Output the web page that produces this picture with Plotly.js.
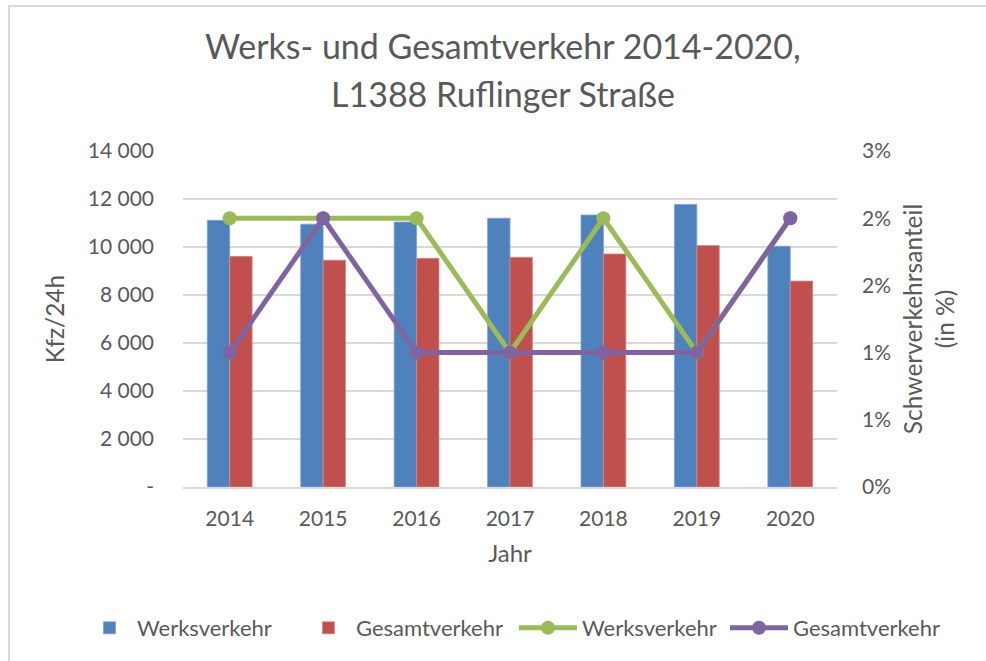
<!DOCTYPE html>
<html>
<head>
<meta charset="utf-8">
<script src="https://cdn.plot.ly/plotly-3.0.1.min.js"></script>
<style>
html,body{margin:0;padding:0;background:#fff;}
#frame{position:absolute;left:8px;top:5px;width:1000px;height:700px;border-top:2px solid #d9d9d9;border-left:2px solid #d9d9d9;}
#chart{position:absolute;left:0;top:0;width:986px;height:661px;}
</style>
</head>
<body>
<div id="frame"></div>
<div id="chart"></div>
<script>
// ---- data ----
const years = ['2014', '2015', '2016', '2017', '2018', '2019', '2020'];
const werksKfz = [11110, 10950, 11040, 11200, 11330, 11770, 10030];
const gesamtKfz = [9610, 9450, 9530, 9570, 9710, 10060, 8580];
const werksAnteil = [0.02, 0.02, 0.02, 0.01, 0.02, 0.01, 0.02];
const gesamtAnteil = [0.01, 0.02, 0.01, 0.01, 0.01, 0.01, 0.02];
const leftTickVals = [0, 2000, 4000, 6000, 8000, 10000, 12000, 14000];
const leftTickText = ['-', '2 000', '4 000', '6 000', '8 000', '10 000', '12 000', '14 000'];
const rightTickVals = [0, 0.005, 0.01, 0.015, 0.02, 0.025];
const rightTickText = ['0%', '1%', '1%', '2%', '2%', '3%'];

const FONT = 'Lato, "Open Sans", sans-serif';
const GREY = '#595959';

const traces = [
  {type: 'bar', name: 'Werksverkehr', x: years, y: werksKfz, legend: 'legend',
   marker: {color: '#4F81BD', line: {color: '#7FA3D3', width: 0.8}}},
  {type: 'bar', name: 'Gesamtverkehr', x: years, y: gesamtKfz, legend: 'legend',
   marker: {color: '#C0504D', line: {color: '#D88684', width: 0.8}}},
  {type: 'scatter', mode: 'lines+markers', name: 'Werksverkehr', x: years, y: werksAnteil, yaxis: 'y2', legend: 'legend2',
   line: {color: '#9BBB59', width: 5}, marker: {color: '#9BBB59', size: 14}},
  {type: 'scatter', mode: 'lines+markers', name: 'Gesamtverkehr', x: years, y: gesamtAnteil, yaxis: 'y2', legend: 'legend3',
   line: {color: '#8064A2', width: 5}, marker: {color: '#8064A2', size: 14}}
];

const legendCommon = {orientation: 'h', xref: 'container', yref: 'container', y: 1 - 628/661,
  xanchor: 'left', yanchor: 'middle', font: {size: 22, color: GREY},
  traceorder: 'normal', bgcolor: 'rgba(0,0,0,0)', borderwidth: 0};

const layout = {
  width: 986, height: 661,
  paper_bgcolor: 'rgba(0,0,0,0)', plot_bgcolor: 'rgba(0,0,0,0)',
  font: {family: FONT, color: GREY, size: 21},
  margin: {l: 183, r: 149, t: 151, b: 174, pad: 0},
  barmode: 'group', bargap: 0.52, bargroupgap: 0,
  showlegend: true,
  title: {text: 'Werks- und Gesamtverkehr 2014-2020,', font: {family: FONT, size: 34, color: GREY},
          x: 0.51, xanchor: 'center', xref: 'container', y: 1 - 47/661, yanchor: 'middle', yref: 'container'},
  annotations: [{text: 'L1388 Ruflinger Straße', xref: 'paper', yref: 'paper', x: 0.49, y: 1 + 57/336,
    showarrow: false, xanchor: 'center', yanchor: 'middle', font: {family: FONT, size: 34, color: GREY}}],
  xaxis: {type: 'category', showgrid: false, showline: true, linecolor: '#d9d9d9', linewidth: 1.5,
    ticks: '', ticklabelstandoff: 12, tickfont: {size: 21, color: GREY},
    title: {text: 'Jahr', font: {size: 24, color: GREY}, standoff: 16}},
  yaxis: {range: [0, 14000], tickvals: leftTickVals, ticktext: leftTickText,
    showgrid: true, gridcolor: '#d9d9d9', gridwidth: 1.3, zeroline: false, showline: false,
    ticks: '', ticklabelstandoff: 28, tickfont: {size: 21, color: GREY},
    title: {text: 'Kfz/24h', font: {size: 24.5, color: GREY}, standoff: 16}},
  yaxis2: {overlaying: 'y', side: 'right', range: [0, 0.025], tickvals: rightTickVals, ticktext: rightTickText,
    showgrid: false, zeroline: false, showline: false, ticks: '', ticklabelstandoff: 24,
    tickfont: {size: 21, color: GREY},
    title: {text: 'Schwerverkehrsanteil<br>(in %)', font: {size: 24.5, color: GREY}, standoff: 14}},
  legend: Object.assign({}, legendCommon, {x: 82/986, itemwidth: 45, entrywidth: 159, entrywidthmode: 'pixels'}),
  legend2: Object.assign({}, legendCommon, {x: 514/986, itemwidth: 58}),
  legend3: Object.assign({}, legendCommon, {x: 725/986, itemwidth: 58})
};

Plotly.newPlot('chart', traces, layout, {displayModeBar: false, staticPlot: true});
</script>
</body>
</html>
